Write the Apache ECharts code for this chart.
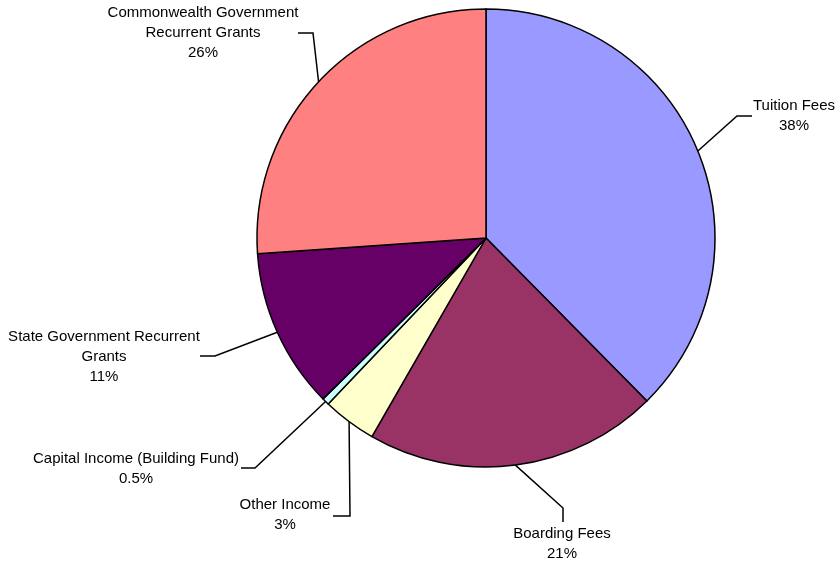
<!DOCTYPE html>
<html>
<head>
<meta charset="utf-8">
<script src="https://cdn.jsdelivr.net/npm/echarts@6/dist/echarts.min.js"></script>
<style>html,body{margin:0;padding:0;background:#fff}#c{width:839px;height:568px}</style>
</head>
<body>
<div id="c"></div>
<script>
// Data
var categories = ['Tuition Fees', 'Boarding Fees', 'Other Income', 'Capital Income (Building Fund)', 'State Government Recurrent Grants', 'Commonwealth Government Recurrent Grants'];
var labelNames = ['Tuition Fees', 'Boarding Fees', 'Other Income', 'Capital Income (Building Fund)', 'State Government Recurrent\nGrants', 'Commonwealth Government\nRecurrent Grants'];
var values = [37.6, 20.7, 3.8, 0.5, 11.3, 26.1];
var percentLabels = ['38%', '21%', '3%', '0.5%', '11%', '26%'];
var colors = ['#9999FF', '#993366', '#FFFFCC', '#CCFFFF', '#660066', '#FF8080'];

// Label layout (text centre and leader line elbows)
var labelPos = [
  { x: 794, y: 116, elbow: [[737, 116], [752, 116]] },
  { x: 562, y: 544, elbow: [[563, 508], [563, 522]] },
  { x: 285, y: 515, elbow: [[350, 516], [333, 516]] },
  { x: 136, y: 469, elbow: [[255, 468], [241, 468]] },
  { x: 104, y: 357, elbow: [[215, 356], [200, 356]] },
  { x: 203, y: 33, elbow: [[313, 33], [298, 33]] }
];

var chart = echarts.init(document.getElementById('c'));
var data = categories.map(function (c, i) {
  return { name: c, value: values[i], itemStyle: { color: colors[i] } };
});
chart.setOption({
  animation: false,
  series: [{
    type: 'pie',
    center: [486, 238],
    radius: 229,
    startAngle: 90,
    clockwise: true,
    avoidLabelOverlap: false,
    data: data,
    itemStyle: { borderColor: '#000', borderWidth: 1.5 },
    label: {
      show: true,
      position: 'outside',
      color: '#000',
      fontFamily: 'Liberation Sans, Arial, sans-serif',
      fontSize: 15,
      lineHeight: 20,
      align: 'center',
      formatter: function (p) { return labelNames[p.dataIndex] + '\n' + percentLabels[p.dataIndex]; }
    },
    labelLine: { show: true, lineStyle: { color: '#000', width: 1.5 } },
    labelLayout: function (params) {
      var lp = labelPos[params.dataIndex];
      var start = params.labelLinePoints ? params.labelLinePoints[0] : lp.elbow[0];
      return {
        x: lp.x,
        y: lp.y,
        align: 'center',
        verticalAlign: 'middle',
        labelLinePoints: [start, lp.elbow[0], lp.elbow[1]]
      };
    }
  }]
});
</script>
</body>
</html>
